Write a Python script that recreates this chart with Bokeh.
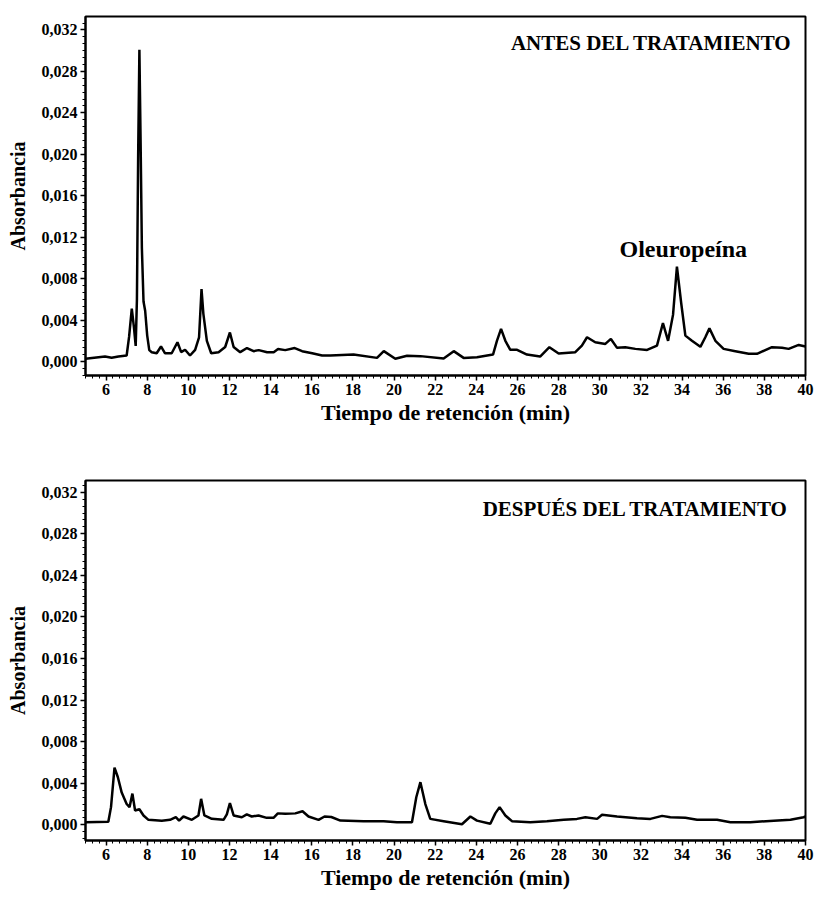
from bokeh.plotting import figure
from bokeh.layouts import column
from bokeh.models import Range1d, SingleIntervalTicker, CustomJSTickFormatter, Label
from bokeh.embed import file_html
from bokeh.resources import INLINE

# ---- data ----
before_t = [5.0, 5.95, 6.27, 6.6, 7.0, 7.12, 7.25, 7.35, 7.44, 7.5, 7.56, 7.62, 7.68, 7.74,
            7.82, 7.9, 8.0, 8.1, 8.22, 8.46, 8.67, 8.86, 9.19, 9.47, 9.65, 9.84, 10.08, 10.33,
            10.52, 10.64, 10.73, 10.9, 11.11, 11.47, 11.79, 12.02, 12.2, 12.52, 12.85, 13.17,
            13.42, 13.83, 14.15, 14.36, 14.71, 15.17, 15.53, 16.02, 16.5, 16.9, 18.03, 19.17,
            19.5, 20.06, 20.63, 21.28, 22.41, 22.9, 23.38, 24.03, 24.81, 25.0, 25.2, 25.41,
            25.65, 25.98, 26.46, 27.1, 27.55, 28.0, 28.81, 29.13, 29.38, 29.78, 30.27, 30.54,
            30.84, 31.24, 31.73, 32.3, 32.78, 33.07, 33.32, 33.56, 33.75, 33.96, 34.16, 34.48,
            34.89, 35.13, 35.33, 35.62, 36.02, 36.59, 37.24, 37.64, 38.37, 38.86, 39.18, 39.67,
            40.0]
before_abs = [0.00026, 0.00048, 0.00036, 0.00048, 0.00058, 0.0024, 0.0051, 0.0034, 0.0015,
              0.006, 0.020, 0.0301, 0.021, 0.011, 0.0058, 0.0049, 0.0025, 0.0011, 0.0009,
              0.0008, 0.00145, 0.0008, 0.0008, 0.00186, 0.0009, 0.00113, 0.00058, 0.00113,
              0.00234, 0.0070, 0.0046, 0.0020, 0.0008, 0.0009, 0.0014, 0.0028, 0.0014, 0.0009,
              0.0013, 0.0010, 0.0011, 0.0009, 0.0009, 0.0012, 0.0011, 0.0013, 0.0010, 0.0008,
              0.00058, 0.00058, 0.00067, 0.00035, 0.0010, 0.00026, 0.00055, 0.00052, 0.00029,
              0.0010, 0.00035, 0.00042, 0.00067, 0.0020, 0.00315, 0.0020, 0.00113, 0.00113,
              0.00067, 0.00048, 0.00138, 0.00077, 0.0009, 0.00154, 0.00234, 0.00186, 0.0017,
              0.00218, 0.00132, 0.00138, 0.00122, 0.00112, 0.00154, 0.0037, 0.0020, 0.0045,
              0.00916, 0.0056, 0.0025, 0.0020, 0.00142, 0.00234, 0.0032, 0.0020, 0.00122,
              0.0010, 0.00074, 0.00074, 0.00138, 0.00132, 0.00122, 0.0016, 0.00145]

after_t = [5.0, 6.11, 6.24, 6.41, 6.57, 6.76, 7.0, 7.14, 7.28, 7.41, 7.62, 7.82, 8.06, 8.71,
           9.11, 9.39, 9.55, 9.76, 10.17, 10.49, 10.62, 10.78, 11.14, 11.71, 11.87, 12.02,
           12.2, 12.6, 12.84, 13.08, 13.41, 13.81, 14.14, 14.35, 14.71, 15.2, 15.55, 15.84,
           16.33, 16.62, 16.95, 17.39, 18.52, 19.49, 20.14, 20.87, 21.08, 21.28, 21.52, 21.76,
           22.41, 23.3, 23.71, 24.03, 24.68, 24.92, 25.13, 25.41, 25.73, 26.62, 27.43, 28.25,
           28.89, 29.3, 29.87, 30.11, 30.84, 31.81, 32.46, 33.03, 33.43, 34.16, 34.73, 35.7,
           36.35, 37.32, 38.46, 39.27, 39.91, 40.0]
after_abs = [0.00025, 0.0003, 0.0017, 0.0055, 0.0046, 0.0031, 0.0020, 0.0017, 0.0030, 0.00138,
             0.0015, 0.0009, 0.00048, 0.0004, 0.00048, 0.00073, 0.0004, 0.0008, 0.00048, 0.0009,
             0.0025, 0.0009, 0.00058, 0.00048, 0.0010, 0.0021, 0.0009, 0.00073, 0.0010, 0.0008,
             0.0009, 0.00067, 0.00067, 0.0011, 0.00106, 0.0011, 0.0013, 0.0008, 0.00048, 0.0008,
             0.00075, 0.00041, 0.00035, 0.00035, 0.00025, 0.00025, 0.00265, 0.0041, 0.0020,
             0.00057, 0.00035, 0.00005, 0.0008, 0.0004, 0.0001, 0.0011, 0.0017, 0.0009, 0.00035,
             0.00025, 0.00035, 0.00048, 0.00057, 0.00073, 0.00057, 0.00096, 0.0008, 0.00064,
             0.00057, 0.00086, 0.00073, 0.00067, 0.00048, 0.00048, 0.00025, 0.00025, 0.0004,
             0.00048, 0.00073, 0.0008]

x_label = "Tiempo de retención (min)"
y_label = "Absorbancia"
title_before = "ANTES DEL TRATAMIENTO"
title_after = "DESPUÉS DEL TRATAMIENTO"
peak_label = "Oleuropeína"
peak_pos = (34.06, 0.0109)

FONT = "Liberation Serif"


def make_fig(height, b_top, b_bottom, y0, y1, t, a, title, title_x, title_y):
    p = figure(width=819, height=height, output_backend="svg", toolbar_location=None,
               x_range=Range1d(5, 40), y_range=Range1d(y0, y1),
               min_border_left=85, min_border_right=14,
               min_border_top=b_top, min_border_bottom=b_bottom)
    p.xgrid.visible = False
    p.ygrid.visible = False
    p.outline_line_color = "black"
    p.outline_line_width = 2
    p.background_fill_color = "white"
    p.border_fill_color = "white"

    p.line(t, a, line_color="black", line_width=2.5)

    p.xaxis.ticker = SingleIntervalTicker(interval=2, num_minor_ticks=6)
    p.yaxis.ticker = SingleIntervalTicker(interval=0.004, num_minor_ticks=6)
    p.yaxis.formatter = CustomJSTickFormatter(code="return tick.toFixed(3).replace('.', ',');")

    for ax in (p.xaxis[0], p.yaxis[0]):
        ax.axis_line_color = "black"
        ax.axis_line_width = 2
        ax.major_tick_line_color = "black"
        ax.major_tick_line_width = 1.5
        ax.minor_tick_line_color = "black"
        ax.major_tick_out = 5
        ax.major_tick_in = 0
        ax.minor_tick_out = 3
        ax.minor_tick_in = 0
        ax.major_label_text_font = FONT
        ax.major_label_text_font_style = "bold"
        ax.major_label_text_font_size = "16px"
        ax.major_label_text_color = "black"
        ax.axis_label_text_font = FONT
        ax.axis_label_text_font_style = "bold"
        ax.axis_label_text_color = "black"
    p.xaxis.axis_label = x_label
    p.yaxis.axis_label = y_label
    p.xaxis.axis_label_text_font_size = "22px"
    p.yaxis.axis_label_text_font_size = "20px"
    p.xaxis.major_label_standoff = 3
    p.xaxis.axis_label_standoff = 2
    p.yaxis.major_label_standoff = 3
    p.yaxis.axis_label_standoff = 10

    p.add_layout(Label(x=title_x, y=title_y, text=title, text_font=FONT,
                       text_font_style="bold", text_font_size="21px",
                       text_align="right", text_baseline="middle", text_color="black"))
    return p


p1 = make_fig(438, 16, 63, -0.00135, 0.0333, before_t, before_abs, title_before, 39.35, 0.0307)
p1.add_layout(Label(x=peak_pos[0], y=peak_pos[1], text=peak_label, text_font=FONT,
                    text_font_style="bold", text_font_size="24px",
                    text_align="center", text_baseline="middle", text_color="black"))
p2 = make_fig(460, 42, 58, -0.00151, 0.03313, after_t, after_abs, title_after, 39.17, 0.0304)

layout = column(p1, p2, spacing=0)
open("out.html", "w").write(file_html(layout, INLINE))
